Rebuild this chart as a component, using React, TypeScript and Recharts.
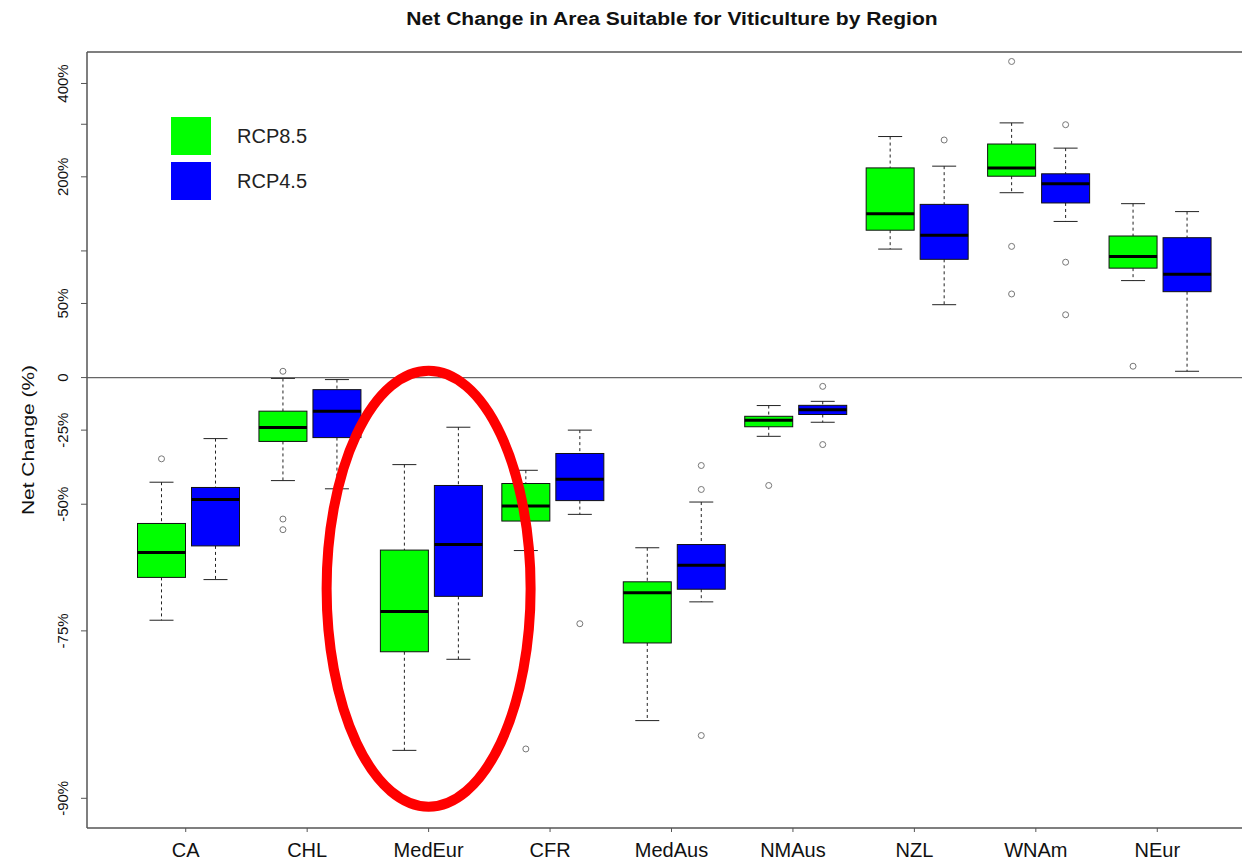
import React from "react";
import { ComposedChart, Bar, XAxis, YAxis, ReferenceLine, ReferenceDot, Legend } from "recharts";

// ---------- data (values in % net change) ----------
const regions = ["CA", "CHL", "MedEur", "CFR", "MedAus", "NMAus", "NZL", "WNAm", "NEur"];

const rcp85Min = [-73.5, -43.1, -87.0, -61.2, -84.7, -27.5, 102, 175, 70];
const rcp85Q1 = [-66.5, -29.5, -77.7, -54.4, -76.6, -23.6, 124, 201, 82];
const rcp85Median = [-61.6, -23.9, -72.2, -50.5, -69.2, -20.8, 145, 215, 94];
const rcp85Q3 = [-55.0, -16.8, -61.1, -44.0, -67.3, -19.1, 215, 259, 117];
const rcp85Max = [-43.6, -0.5, -37.9, -39.8, -60.6, -14.2, 274, 303, 159];
const rcp85Outliers = [[-35.9], [3.5, -53.9, -56.5], [], [-86.9], [], [-44.6], [], [464, 105, 58], [6.4]];

const rcp45Min = [-66.9, -45.6, -78.6, -52.7, -70.7, -21.7, 49, 135, 3.5];
const rcp45Q1 = [-60.2, -28.0, -69.8, -49.0, -68.6, -18.3, 91, 160, 60];
const rcp45Median = [-48.7, -16.8, -59.9, -42.7, -64.2, -16.1, 118, 189, 76];
const rcp45Q3 = [-45.2, -6.4, -44.6, -34.0, -59.9, -14.1, 158, 205, 115];
const rcp45Max = [-28.4, -1.1, -23.8, -25.0, -49.4, -12.2, 218, 251, 148];
const rcp45Outliers = [[], [], [], [-74.0], [-38.2, -45.8, -85.9], [-4.7, -30.7], [267], [299, 88, 41], []];

const seriesNames = ["RCP8.5", "RCP4.5"];
const seriesColors = ["#00ff00", "#0000ff"];

const yTickValues = [400, 300, 200, 100, 50, 0, -25, -50, -75, -90];
const yTickLabels = ["400%", "", "200%", "", "50%", "0", "-25%", "-50%", "-75%", "-90%"];
const yDomainPct = [-91.5, 494];

const highlightRegion = "MedEur";
const highlightCenterPct = -68.5;

const title = "Net Change in Area Suitable for Viticulture by Region";
const yTitle = "Net Change (%)";

// ---------- helpers ----------
const FONT = "'Liberation Sans', Arial, Helvetica, sans-serif";
const tf = (p: number) => Math.log10(1 + p / 100);

const data = regions.map((r, i) => ({
  region: r,
  g: { min: rcp85Min[i], q1: rcp85Q1[i], med: rcp85Median[i], q3: rcp85Q3[i], max: rcp85Max[i], out: rcp85Outliers[i] },
  b: { min: rcp45Min[i], q1: rcp45Q1[i], med: rcp45Median[i], q3: rcp45Q3[i], max: rcp45Max[i], out: rcp45Outliers[i] },
}));

const SHIFT = 2.5;

function makeBox(key: "g" | "b", color: string) {
  return (p: any) => {
    const s = p.payload && p.payload[key];
    if (!s) return <g />;
    const hi = tf(s.max);
    const lo = tf(s.min);
    const top = Math.min(p.y, p.y + p.height);
    const bot = Math.max(p.y, p.y + p.height);
    const py = (v: number) => top + ((hi - tf(v)) / (hi - lo)) * (bot - top);
    const x0 = p.x + SHIFT;
    const w = p.width;
    const cx = x0 + w / 2;
    const yq3 = py(s.q3);
    const yq1 = py(s.q1);
    const ym = py(s.med);
    const yMax = py(s.max);
    const yMin = py(s.min);
    const cap = w / 4;
    return (
      <g>
        <line x1={cx} x2={cx} y1={yMax} y2={yq3} stroke="#222" strokeWidth={1} strokeDasharray="3 3" />
        <line x1={cx} x2={cx} y1={yq1} y2={yMin} stroke="#222" strokeWidth={1} strokeDasharray="3 3" />
        <line x1={cx - cap} x2={cx + cap} y1={yMax} y2={yMax} stroke="#222" strokeWidth={1} />
        <line x1={cx - cap} x2={cx + cap} y1={yMin} y2={yMin} stroke="#222" strokeWidth={1} />
        <rect x={x0} y={yq3} width={w} height={Math.max(1, yq1 - yq3)} fill={color} stroke="#111" strokeWidth={1} />
        <line x1={x0} x2={x0 + w} y1={ym} y2={ym} stroke="#000" strokeWidth={3} />
        {s.out.map((o: number, j: number) => (
          <circle key={j} cx={cx} cy={py(o)} r={3} fill="none" stroke="#777" strokeWidth={1} />
        ))}
      </g>
    );
  };
}

const XTick = (p: any) => (
  <text x={p.x} y={p.y + 23} textAnchor="middle" fontFamily={FONT} fontSize={20} fill="#111">
    {p.payload.value}
  </text>
);

const YTick = (p: any) => {
  const idx = yTickValues.findIndex((v) => Math.abs(tf(v) - p.payload.value) < 1e-9);
  const label = idx >= 0 ? yTickLabels[idx] : "";
  const x = p.x - 11;
  return (
    <text x={x} y={p.y} transform={`rotate(-90 ${x} ${p.y})`} textAnchor="middle" fontFamily={FONT} fontSize={15} fill="#111">
      {label}
    </text>
  );
};

const YTitle = (p: any) => {
  const vb = p.viewBox || { x: 0, y: 52, width: 87, height: 776 };
  const x = vb.x + 34;
  const y = vb.y + vb.height / 2;
  return (
    <text x={x} y={y} transform={`rotate(-90 ${x} ${y})`} textAnchor="middle" fontFamily={FONT} fontSize={16} fill="#111" textLength={150} lengthAdjust="spacingAndGlyphs">
      {yTitle}
    </text>
  );
};

const LegendContent = () => (
  <div style={{ fontFamily: FONT, fontSize: 20, color: "#222" }}>
    {seriesNames.map((n, i) => (
      <div key={n} style={{ display: "flex", alignItems: "center", height: 38, marginBottom: 7 }}>
        <div style={{ width: 40, height: 38, background: seriesColors[i] }} />
        <span style={{ marginLeft: 26 }}>{n}</span>
      </div>
    ))}
  </div>
);

export default function App() {
  return (
    <div style={{ position: "absolute", left: 0, top: 0, width: 1242, height: 862, overflow: "hidden", background: "#fff" }}>
      <div
        style={{
          position: "absolute",
          left: 672,
          top: 10,
          transform: "translateX(-50%) scaleX(1.17)",
          whiteSpace: "nowrap",
          fontFamily: FONT,
          fontWeight: "bold",
          fontSize: 18,
          lineHeight: "18px",
          color: "#111",
          zIndex: 2,
        }}
      >
        {title}
      </div>
      <ComposedChart width={1262} height={862} data={data} margin={{ top: 52, right: 5, bottom: 0, left: 0 }} barSize={48} barGap={6}>
        <XAxis
          dataKey="region"
          type="category"
          height={34}
          padding={{ left: 38, right: 39 }}
          interval={0}
          tick={<XTick />}
          tickSize={4}
          tickLine={{ stroke: "#555" }}
          axisLine={{ stroke: "#555", strokeWidth: 1.5 }}
        />
        <YAxis
          type="number"
          width={87}
          domain={[tf(yDomainPct[0]), tf(yDomainPct[1])]}
          ticks={yTickValues.map(tf)}
          interval={0}
          allowDataOverflow
          tick={<YTick />}
          tickSize={6}
          tickLine={{ stroke: "#555" }}
          axisLine={{ stroke: "#555", strokeWidth: 1.5 }}
          label={<YTitle />}
        />
        <ReferenceLine y={tf(yDomainPct[1])} stroke="#555" strokeWidth={1.5} />
        <ReferenceLine y={0} stroke="#666" strokeWidth={1.3} />
        <Legend
          layout="vertical"
          align="center"
          verticalAlign="middle"
          content={<LegendContent />}
          wrapperStyle={{ left: 171, top: 117, width: 200, height: 90 }}
        />
        <Bar
          name={seriesNames[0]}
          dataKey={(d: any) => [tf(d.g.min), tf(d.g.max)]}
          fill={seriesColors[0]}
          isAnimationActive={false}
          shape={makeBox("g", seriesColors[0])}
        />
        <Bar
          name={seriesNames[1]}
          dataKey={(d: any) => [tf(d.b.min), tf(d.b.max)]}
          fill={seriesColors[1]}
          isAnimationActive={false}
          shape={makeBox("b", seriesColors[1])}
        />
        <ReferenceDot
          x={highlightRegion}
          y={tf(highlightCenterPct)}
          ifOverflow="visible"
          shape={(p: any) => <ellipse cx={p.cx} cy={p.cy} rx={102} ry={218} fill="none" stroke="#ff0000" strokeWidth={10} />}
        />
      </ComposedChart>
    </div>
  );
}
